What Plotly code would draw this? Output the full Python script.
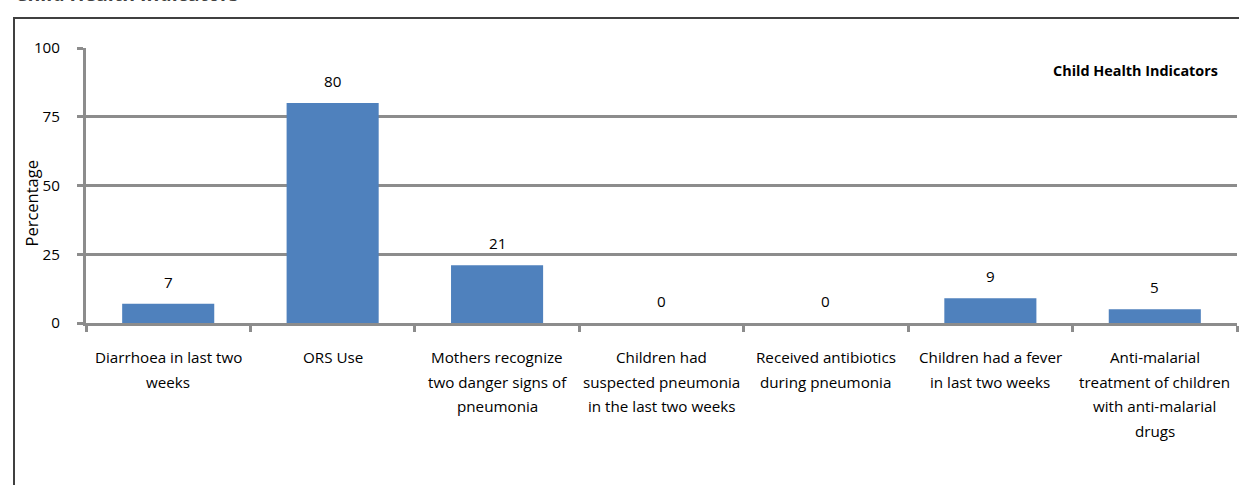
import plotly.graph_objects as go

# Child health indicator categories (multi-line labels split on <br>)
categories = [
    "Diarrhoea in last two<br>weeks",
    "ORS Use",
    "Mothers recognize<br>two danger signs of<br>pneumonia",
    "Children had<br>suspected pneumonia<br>in the last two weeks",
    "Received antibiotics<br>during pneumonia",
    "Children had a fever<br>in last two weeks",
    "Anti-malarial<br>treatment of children<br>with anti-malarial<br>drugs",
]
values = [7, 80, 21, 0, 0, 9, 5]
y_ticks = [0, 25, 50, 75, 100]
series_name = "Child Health Indicators"
chart_title = "Child Health Indicators"
y_title = "Percentage"

W, H = 1239, 485
L, R, T, B = 86, 2, 48, 162
plot_w = W - L - R
plot_h = H - T - B

FONT = "Open Sans"
FS = 15.2
GRID = "#8c8c8c"
BAR = "#4F81BD"
TXT = "#000000"

fig = go.Figure()
fig.add_trace(go.Bar(
    x=categories, y=values, name=series_name,
    marker=dict(color=BAR, line=dict(width=0)),
    showlegend=False,
))

annotations = []
# value labels above each bar
for c, v in zip(categories, values):
    annotations.append(dict(
        x=c, y=v, xref="x", yref="y", text=str(v), showarrow=False,
        yshift=22, yanchor="middle", xanchor="center",
        font=dict(family=FONT, size=FS, color=TXT),
    ))

# category labels, one annotation per line for wider line spacing
for c in categories:
    for j, line in enumerate(c.split("<br>")):
        annotations.append(dict(
            x=c, y=0, xref="x", yref="paper", text=line, showarrow=False,
            yshift=-34 - j * 24.7, yanchor="middle", xanchor="center",
            font=dict(family=FONT, size=FS, color=TXT),
        ))

# y-axis title
annotations.append(dict(
    x=0, y=0.5, xref="paper", yref="paper", text=y_title, showarrow=False,
    textangle=-90, xshift=-55, yshift=-18, xanchor="center", yanchor="middle",
    font=dict(family=FONT, size=16.5, color=TXT),
))

# series label in the upper right
annotations.append(dict(
    x=1, y=1, xref="paper", yref="paper", text="<b>" + series_name + "</b>",
    showarrow=False, xshift=-17, yshift=-22, xanchor="right", yanchor="middle",
    font=dict(family=FONT, size=14.4, color="#000000"),
))

# chart title along the top edge
annotations.append(dict(
    x=0, y=1, xref="paper", yref="paper", text="<b>" + chart_title + "</b>",
    showarrow=False, xshift=-73, yshift=55, xanchor="left", yanchor="middle",
    font=dict(family=FONT, size=19.5, color="#404040"),
))

shapes = [
    # outer chart frame
    dict(type="rect", xref="paper", yref="paper",
         x0=(14 - L) / plot_w, x1=1 + 20 / plot_w,
         y0=-(B + 20) / plot_h, y1=1 + (T - 18) / plot_h,
         line=dict(color="#404040", width=2), fillcolor="rgba(0,0,0,0)",
         layer="below"),
]

fig.update_layout(
    width=W, height=H,
    margin=dict(l=L, r=R, t=T, b=B),
    paper_bgcolor="white", plot_bgcolor="white",
    bargap=0.44,
    annotations=annotations,
    shapes=shapes,
    font=dict(family=FONT, size=FS, color=TXT),
)

fig.update_xaxes(
    type="category",
    showticklabels=False,
    showgrid=False, zeroline=False,
    showline=True, linecolor=GRID, linewidth=3,
    ticks="outside", tickson="boundaries", ticklen=6, tickwidth=3, tickcolor=GRID,
)
fig.update_yaxes(
    range=[0, 100], tickmode="array", tickvals=y_ticks,
    showgrid=True, gridcolor=GRID, gridwidth=3,
    zeroline=False,
    showline=True, linecolor=GRID, linewidth=3,
    ticks="outside", ticklen=6, tickwidth=3, tickcolor=GRID,
    ticklabelstandoff=14,
    tickfont=dict(family=FONT, size=FS, color=TXT),
)

fig.write_html("out.html")
